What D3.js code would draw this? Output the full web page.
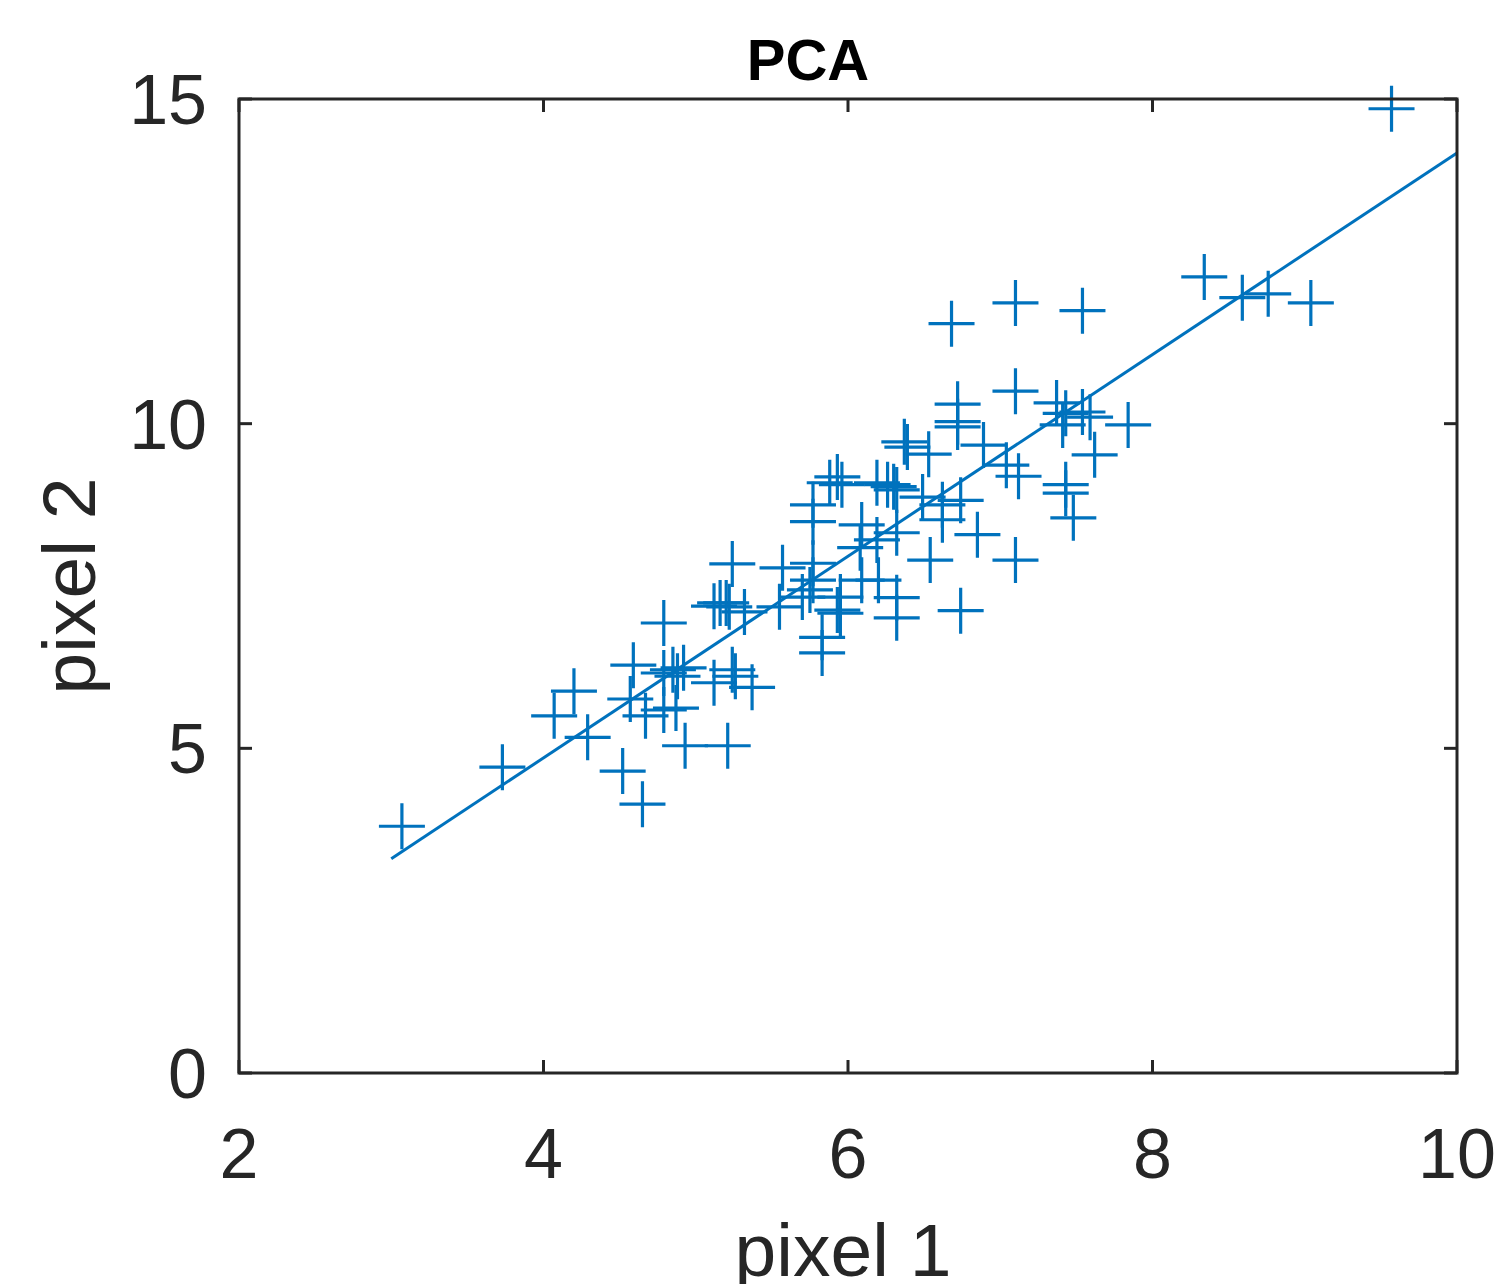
<!DOCTYPE html>
<html>
<head>
<meta charset="utf-8">
<script src="https://cdn.jsdelivr.net/npm/d3@7"></script>
<style>
  body { margin: 0; background: #fff; }
  svg text { font-family: "Liberation Sans", Arial, sans-serif; fill: #262626; }
</style>
</head>
<body>
<svg width="1503" height="1284"></svg>
<script>
// pixel values
var pixel1 = [9.57, 3.07, 3.73, 4.20, 4.07, 4.29, 4.52, 4.65, 4.93, 5.21,
  4.59, 4.57, 4.67, 4.79, 4.87, 4.79, 4.79, 4.85, 4.92, 4.88,
  5.12, 5.24, 5.26, 5.37, 5.12, 5.16, 5.20, 5.22, 5.32, 5.24,
  5.57, 5.55, 5.77, 5.77, 5.75, 5.70, 5.95, 5.95, 5.83, 5.83,
  5.93, 6.09, 6.20, 6.32, 6.32, 6.74, 6.54, 7.10, 6.85, 6.32,
  6.08, 6.09, 5.77, 5.77, 5.93, 5.88, 5.96, 6.19, 6.26, 6.30,
  6.32, 6.49, 6.62, 6.74, 6.62, 6.39, 6.37, 6.53, 6.72, 6.72,
  6.72, 7.10, 6.89, 7.04, 7.12, 7.37, 7.43, 7.41, 7.54, 7.59,
  7.84, 7.62, 7.43, 7.43, 7.48, 6.68, 7.10, 7.54, 8.34, 8.59,
  8.76, 9.04, 6.19];
var pixel2 = [14.85, 3.80, 4.71, 5.88, 5.50, 5.17, 4.65, 4.14, 5.04, 5.04,
  6.28, 5.76, 5.50, 5.59, 5.62, 6.93, 6.16, 6.21, 6.24, 6.11,
  6.01, 6.21, 6.11, 5.94, 7.19, 7.24, 7.24, 7.18, 7.10, 7.84,
  7.78, 7.18, 7.85, 7.59, 7.44, 7.33, 7.33, 7.08, 6.71, 6.47,
  7.13, 7.59, 7.59, 7.32, 7.01, 7.12, 7.90, 7.90, 8.29, 8.32,
  8.09, 8.44, 8.75, 8.49, 9.18, 9.09, 9.06, 9.09, 9.06, 9.03,
  8.98, 8.87, 8.75, 8.82, 8.52, 9.64, 9.72, 9.53, 10.30, 10.03,
  9.95, 10.50, 9.67, 9.36, 9.19, 10.32, 10.16, 9.98, 10.18, 10.10,
  9.98, 9.52, 9.06, 8.93, 8.55, 11.54, 11.86, 11.74, 12.26, 11.94,
  12.00, 11.86, 8.21];

// principal direction drawn through the cloud
var lineX = [3.0, 10.0];
var lineY = [3.30, 14.17];

var xTicks = [2, 4, 6, 8, 10];
var yTicks = [0, 5, 10, 15];

var svg = d3.select("svg"),
    pLeft = 239, pRight = 1457, pTop = 99, pBottom = 1073,
    blue = "#0072BD", dark = "#262626";

var x = d3.scaleLinear().domain([2, 10]).range([pLeft, pRight]);
var y = d3.scaleLinear().domain([0, 15]).range([pBottom, pTop]);

var g = svg.append("g");

// line
g.append("path")
  .datum(d3.zip(lineX, lineY))
  .attr("d", d3.line().x(function(d) { return x(d[0]); }).y(function(d) { return y(d[1]); }))
  .attr("fill", "none")
  .attr("stroke", blue)
  .attr("stroke-width", 3);

// markers (+)
var half = 23;
g.selectAll("path.pt")
  .data(d3.zip(pixel1, pixel2))
  .enter().append("path")
    .attr("class", "pt")
    .attr("d", "M" + (-half) + ",0H" + half + "M0," + (-half) + "V" + half)
    .attr("transform", function(d) { return "translate(" + x(d[0]) + "," + y(d[1]) + ")"; })
    .attr("stroke", blue)
    .attr("stroke-width", 3.2)
    .attr("fill", "none");

// axes box with inward ticks
var tick = 13;
var ax = svg.append("g");
ax.append("rect")
  .attr("x", pLeft).attr("y", pTop)
  .attr("width", pRight - pLeft).attr("height", pBottom - pTop)
  .attr("fill", "none").attr("stroke", dark).attr("stroke-width", 3);

xTicks.forEach(function(t) {
  ax.append("line").attr("x1", x(t)).attr("x2", x(t)).attr("y1", pBottom).attr("y2", pBottom - tick)
    .attr("stroke", dark).attr("stroke-width", 3);
  ax.append("line").attr("x1", x(t)).attr("x2", x(t)).attr("y1", pTop).attr("y2", pTop + tick)
    .attr("stroke", dark).attr("stroke-width", 3);
  ax.append("text").attr("x", x(t)).attr("y", 1178)
    .attr("text-anchor", "middle").attr("font-size", 70).text(t);
});
yTicks.forEach(function(t) {
  ax.append("line").attr("x1", pLeft).attr("x2", pLeft + tick).attr("y1", y(t)).attr("y2", y(t))
    .attr("stroke", dark).attr("stroke-width", 3);
  ax.append("line").attr("x1", pRight).attr("x2", pRight - tick).attr("y1", y(t)).attr("y2", y(t))
    .attr("stroke", dark).attr("stroke-width", 3);
  ax.append("text").attr("x", 207).attr("y", y(t) + 25)
    .attr("text-anchor", "end").attr("font-size", 70).text(t);
});

// labels
svg.append("text").attr("x", 843).attr("y", 1276)
  .attr("text-anchor", "middle").attr("font-size", 75).text("pixel 1");
svg.append("text")
  .attr("transform", "translate(95," + ((pTop + pBottom) / 2) + ") rotate(-90)")
  .attr("text-anchor", "middle").attr("font-size", 75).text("pixel 2");
svg.append("text").attr("x", 808).attr("y", 80)
  .attr("text-anchor", "middle").attr("font-size", 58).attr("font-weight", "bold")
  .style("fill", "#000").text("PCA");
</script>
</body>
</html>
